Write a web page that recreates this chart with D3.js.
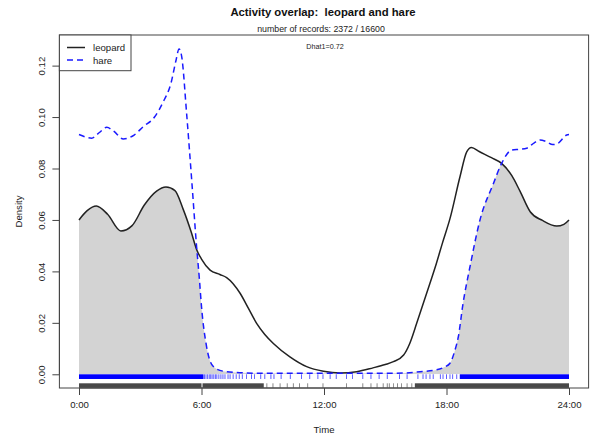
<!DOCTYPE html>
<html><head><meta charset="utf-8">
<script src="https://cdn.jsdelivr.net/npm/d3@7"></script>
<style>body{margin:0;background:#fff}svg{display:block;font-family:"Liberation Sans",Arial,sans-serif}</style>
</head><body><svg id="c" width="594" height="439"></svg>
<script>
// ---- data ----
const leopardT = [0,0.4,0.85,1.4,2.05,2.6,3.2,3.8,4.26,4.7,5.1,5.5,5.77,6.0,6.42,6.9,7.23,7.89,8.3,8.7,9.1,9.52,10.33,11.15,11.97,12.78,13.6,14.4,15.0,15.4,15.9,16.2,16.54,17.19,17.5,17.8,18.17,18.66,18.99,19.22,19.6,20.2,20.7,21.2,21.6,22.1,22.7,23.4,23.75,24];
const leopardV = [0.060,0.0636,0.0654,0.0622,0.0557,0.0578,0.0658,0.0712,0.0728,0.0714,0.0642,0.0552,0.0483,0.0448,0.0405,0.0388,0.0376,0.0315,0.0256,0.0198,0.0155,0.0120,0.0068,0.0030,0.0012,0.0005,0.0010,0.0025,0.0038,0.0049,0.0075,0.0120,0.0198,0.0354,0.0430,0.0510,0.0605,0.0768,0.0865,0.0882,0.0866,0.0842,0.0820,0.0772,0.0712,0.0632,0.0598,0.0576,0.0583,0.0600];
const hareT = [0,0.62,1.0,1.36,1.7,2.17,2.7,3.15,3.7,4.13,4.5,4.75,4.9,5.03,5.27,5.52,5.76,5.9,6.0,6.25,6.58,7.07,8.0,9.0,12.0,15.0,16.0,16.7,17.5,17.9,18.17,18.4,18.58,18.8,19.15,19.64,20.3,20.7,21.2,21.6,21.93,22.3,22.58,22.9,23.2,23.4,23.89,24];
const hareV = [0.0932,0.0918,0.0940,0.0960,0.0945,0.0915,0.0930,0.0963,0.1000,0.1060,0.1130,0.1220,0.1265,0.1235,0.1015,0.0755,0.0496,0.0367,0.0263,0.0107,0.0030,0.0012,0.0006,0.0004,0.0004,0.0004,0.0005,0.0010,0.0017,0.0028,0.0043,0.0090,0.0146,0.0270,0.0418,0.0600,0.0742,0.0820,0.0872,0.0875,0.0879,0.0900,0.0911,0.0904,0.0893,0.0895,0.0930,0.0932];
const hareRugDense = [[0,6.1],[18.65,24]];
const hareRugSparse = [6.15,6.22,6.3,6.38,6.45,6.52,6.6,6.68,6.75,6.85,6.95,7.05,7.15,7.3,7.4,7.55,7.7,7.85,8.0,8.2,8.45,8.6,8.9,9.1,9.4,9.55,9.9,10.35,10.9,11.3,11.7,11.95,12.3,12.6,13.1,13.4,13.9,14.3,14.7,15.1,15.7,16.07,16.6,16.85,17.0,17.19,17.35,17.7,17.83,18.0,18.17,18.3,18.5];
const leopardRugDense = [[0,6.0],[6.05,9.05],[16.45,24]];
const leopardRugSparse = [9.2,9.5,9.85,10.2,10.5,10.8,11.2,11.95,13.1,13.9,14.3,14.6,14.9,15.1,15.2,15.4,15.6,15.8,16.07,16.3];
const xTicks = [0,6,12,18,24];
const xTickLabels = ["0:00","6:00","12:00","18:00","24:00"];
const yTicks = [0,0.02,0.04,0.06,0.08,0.10,0.12];
const yTickLabels = ["0.00","0.02","0.04","0.06","0.08","0.10","0.12"];
const seriesNames = ["leopard","hare"];
const seriesColors = ["#222","#1a1aff"];
const titleText = "Activity overlap:  leopard and hare";
const subText = "number of records: 2372 / 16600";
const dhatText = "Dhat1=0.72";

// ---- layout ----
const svg = d3.select("#c");
const L = 59.4, R = 588.6, T = 35, B = 388;
const x = d3.scaleLinear().domain([-0.96, 24.96]).range([L, R]);
const y = d3.scaleLinear().domain([-0.00533, 0.1319]).range([B, T]);

const leo = leopardT.map((t,i)=>[t, leopardV[i]]);
const har = hareT.map((t,i)=>[t, hareV[i]]);
const curve = d3.curveMonotoneX;
const line = d3.line().x(d=>x(d[0])).y(d=>y(d[1])).curve(curve);
const area = d3.area().x(d=>x(d[0])).y0(y(0)).y1(d=>y(d[1])).curve(curve);

// overlap fill = area under leopard clipped to area under hare
const defs = svg.append("defs");
defs.append("clipPath").attr("id","hareClip").append("path").attr("d", area(har));
svg.append("path").attr("d", area(leo)).attr("fill","#d3d3d3").attr("clip-path","url(#hareClip)");

// rugs
const rugG = svg.append("g");
function drawRug(dense, sparse, y0, y1, color, op){
  rugG.selectAll(null).data(dense).enter().append("rect")
    .attr("x", d=>x(d[0])).attr("width", d=>x(d[1])-x(d[0]))
    .attr("y", y0).attr("height", y1-y0).attr("fill", color).attr("opacity", op);
  rugG.selectAll(null).data(sparse).enter().append("line")
    .attr("x1", d=>x(d)).attr("x2", d=>x(d)).attr("y1", y0).attr("y2", y1)
    .attr("stroke", color).attr("stroke-width", 0.8).attr("opacity", op*0.8);
}
drawRug(hareRugDense, hareRugSparse, y(0), y(0)+4.7, "#0000ff", 1);
drawRug(leopardRugDense, leopardRugSparse, 383.3, 387.8, "#1a1a1a", 0.8);

// curves
svg.append("path").attr("d", line(leo)).attr("fill","none").attr("stroke",seriesColors[0]).attr("stroke-width",1.5);
svg.append("path").attr("d", line(har)).attr("fill","none").attr("stroke",seriesColors[1]).attr("stroke-width",1.5).attr("stroke-dasharray","6,4");

// box
svg.append("rect").attr("x",L).attr("y",T).attr("width",R-L).attr("height",B-T).attr("fill","none").attr("stroke","#444").attr("stroke-width",1);

// x axis
const xa = svg.append("g").attr("transform",`translate(0,${B})`)
  .call(d3.axisBottom(x).tickValues(xTicks).tickFormat((d,i)=>xTickLabels[i]).tickSizeOuter(0).tickSize(7).tickPadding(6));
xa.select(".domain").attr("d", `M${x(0)},0H${x(24)}`).attr("stroke","#444");
xa.selectAll(".tick line").attr("stroke","#444");
xa.selectAll("text").attr("font-size", 9.6).attr("fill","#222").attr("font-family","Liberation Sans, Arial, sans-serif");

// y axis
const ya = svg.append("g").attr("transform",`translate(${L},0)`)
  .call(d3.axisLeft(y).tickValues(yTicks).tickFormat((d,i)=>yTickLabels[i]).tickSizeOuter(0).tickSize(7));
ya.select(".domain").attr("d", `M0,${y(0)}V${y(0.12)}`).attr("stroke","#444");
ya.selectAll(".tick line").attr("stroke","#444");
ya.selectAll("text").attr("font-size", 9.6).attr("fill","#222").attr("font-family","Liberation Sans, Arial, sans-serif")
  .attr("x", null).attr("dy", null).attr("text-anchor","middle")
  .attr("transform","translate(-14,0) rotate(-90)");

// labels
svg.append("text").attr("x",324).attr("y",432.5).attr("text-anchor","middle").attr("font-size",9.6).attr("fill","#222").text("Time");
svg.append("text").attr("transform","translate(21.5,211.5) rotate(-90)").attr("text-anchor","middle").attr("font-size",9.6).attr("fill","#222").text("Density");
svg.append("text").attr("x",323).attr("y",16).attr("text-anchor","middle").attr("font-size",11.3).attr("font-weight","bold").attr("fill","#111").style("white-space","pre").text(titleText);
svg.append("text").attr("x",321).attr("y",32).attr("text-anchor","middle").attr("font-size",8.8).attr("fill","#222").text(subText);
svg.append("text").attr("x",325).attr("y",48.5).attr("text-anchor","middle").attr("font-size",7.2).attr("fill","#222").text(dhatText);

// legend
const lg = svg.append("g");
lg.append("rect").attr("x",L).attr("y",T).attr("width",131-L).attr("height",70.7-T).attr("fill","#fff").attr("stroke","#444");
const ly = [47.5, 60];
seriesNames.forEach((n,i)=>{
  lg.append("line").attr("x1",67).attr("x2",85).attr("y1",ly[i]).attr("y2",ly[i]).attr("stroke",seriesColors[i]).attr("stroke-width",1.5).attr("stroke-dasharray", i===1?"6,4":null);
  lg.append("text").attr("x",93).attr("y",ly[i]+3.5).attr("font-size",9.6).attr("fill","#222").text(n);
});
</script></body></html>
